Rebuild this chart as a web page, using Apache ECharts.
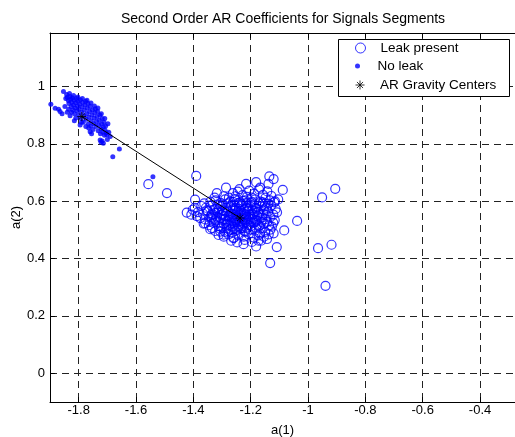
<!DOCTYPE html>
<html>
<head>
<meta charset="utf-8">
<script src="https://cdn.jsdelivr.net/npm/echarts@6/dist/echarts.min.js"></script>
<style>html,body{margin:0;padding:0;background:#fff}#c{width:515px;height:437px}</style>
</head>
<body>
<div id="c"></div>
<script>
const titleText = 'Second Order AR Coefficients for Signals Segments';
const xName = 'a(1)';
const yName = 'a(2)';
const xTicks = [-1.8, -1.6, -1.4, -1.2, -1, -0.8, -0.6, -0.4];
const yTicks = [0, 0.2, 0.4, 0.6, 0.8, 1];
const legendNames = ['Leak present', 'No leak', 'AR Gravity Centers'];

const leakPresent = [
  [-1.135,0.686],[-1.120,0.677],[-1.181,0.666],[-1.216,0.660],[-1.138,0.660],[-1.286,0.647],[-1.239,0.642],[-1.088,0.639],[-1.390,0.688],[-1.167,0.647],[-1.318,0.628],
  [-1.557,0.659],[-1.492,0.628],[-0.951,0.613],[-0.905,0.643],[-1.038,0.531],[-1.083,0.498],[-1.109,0.440],[-1.132,0.384],[-0.965,0.436],[-0.918,0.448],[-0.939,0.305],[-0.277,0.106],
  [-1.181,0.442],[-1.423,0.560],[-1.394,0.605],[-1.402,0.570],[-1.115,0.599],[-1.120,0.488],[-1.173,0.462],[-1.225,0.450],[-1.260,0.471],[-1.306,0.494],[-1.359,0.523],[-1.126,0.511],[-1.295,0.483],[-1.335,0.506],
  [-1.262,0.628],[-1.245,0.633],[-1.228,0.621],[-1.205,0.637],[-1.188,0.626],[-1.171,0.641],[-1.157,0.622],[-1.142,0.634],[-1.128,0.618],[-1.294,0.617],[-1.276,0.612],[-1.213,0.615],[-1.148,0.612],
  [-1.341,0.598],[-1.322,0.603],[-1.305,0.594],[-1.289,0.606],[-1.271,0.598],[-1.254,0.607],[-1.237,0.596],[-1.219,0.603],[-1.201,0.594],[-1.184,0.606],[-1.166,0.598],[-1.150,0.591],[-1.133,0.603],[-1.118,0.596],[-1.104,0.606],
  [-1.372,0.583],[-1.356,0.577],[-1.338,0.585],[-1.321,0.574],[-1.303,0.582],[-1.286,0.577],[-1.268,0.586],[-1.251,0.575],[-1.233,0.583],[-1.216,0.577],[-1.198,0.585],[-1.181,0.574],[-1.163,0.582],[-1.146,0.577],[-1.129,0.585],[-1.113,0.573],
  [-1.384,0.562],[-1.366,0.556],[-1.349,0.564],[-1.331,0.553],[-1.314,0.561],[-1.296,0.556],[-1.279,0.565],[-1.261,0.553],[-1.244,0.561],[-1.226,0.557],[-1.209,0.566],[-1.191,0.554],[-1.174,0.562],[-1.156,0.556],[-1.139,0.564],[-1.121,0.553],[-1.108,0.561],
  [-1.376,0.541],[-1.359,0.536],[-1.341,0.545],[-1.324,0.533],[-1.306,0.541],[-1.289,0.537],[-1.271,0.545],[-1.254,0.533],[-1.236,0.541],[-1.219,0.536],[-1.201,0.545],[-1.184,0.533],[-1.166,0.541],[-1.149,0.537],[-1.131,0.545],[-1.116,0.534],
  [-1.364,0.522],[-1.346,0.516],[-1.329,0.524],[-1.311,0.513],[-1.294,0.521],[-1.276,0.516],[-1.259,0.525],[-1.241,0.513],[-1.224,0.521],[-1.206,0.517],[-1.189,0.525],[-1.171,0.513],[-1.154,0.521],[-1.136,0.516],[-1.121,0.524],
  [-1.341,0.502],[-1.324,0.496],[-1.306,0.504],[-1.289,0.493],[-1.271,0.501],[-1.254,0.496],[-1.236,0.505],[-1.219,0.493],[-1.201,0.501],[-1.184,0.497],[-1.166,0.505],[-1.149,0.493],[-1.131,0.501],
  [-1.312,0.482],[-1.294,0.476],[-1.277,0.484],[-1.259,0.473],[-1.242,0.481],[-1.224,0.476],[-1.207,0.485],[-1.189,0.473],[-1.172,0.481],[-1.154,0.476],[-1.137,0.484],
  [-1.268,0.462],[-1.247,0.456],[-1.221,0.465],[-1.196,0.458],[-1.164,0.462],[-1.143,0.468],
  [-1.298,0.568],[-1.262,0.572],[-1.228,0.548],[-1.195,0.568],[-1.247,0.526],[-1.213,0.508],[-1.282,0.531],[-1.178,0.549],[-1.265,0.489],[-1.232,0.588],[-1.196,0.612],[-1.158,0.596],
  [-1.317,0.546],[-1.343,0.528],[-1.301,0.509],[-1.142,0.528],[-1.176,0.518],[-1.211,0.533],[-1.248,0.548],[-1.233,0.506],[-1.279,0.592],[-1.316,0.588],[-1.353,0.568],[-1.388,0.548],[-1.407,0.553],[-1.395,0.577],[-1.362,0.592],[-1.326,0.612],
  [-1.253,0.553],[-1.238,0.529],[-1.222,0.571],[-1.204,0.552],[-1.188,0.589],[-1.269,0.557],[-1.285,0.518],[-1.241,0.572],[-1.216,0.592],[-1.257,0.585],[-1.273,0.535],[-1.229,0.514],
  [-1.193,0.539],[-1.181,0.507],[-1.162,0.528],[-1.145,0.552],[-1.207,0.574],[-1.246,0.501],[-1.262,0.512],[-1.292,0.548],[-1.309,0.527],[-1.331,0.569],[-1.298,0.589],[-1.171,0.592],
  [-1.257,0.541],[-1.232,0.558],[-1.215,0.545],[-1.199,0.527],[-1.221,0.497],[-1.271,0.578],[-1.186,0.564],[-1.154,0.571],[-1.139,0.591],[-1.168,0.487],[-1.253,0.617],[-1.336,0.542],
  [-1.264,0.546],[-1.249,0.537],[-1.226,0.538],[-1.241,0.552],[-1.255,0.567],[-1.235,0.566],[-1.219,0.555],[-1.213,0.524],[-1.229,0.529],[-1.244,0.519],[-1.261,0.531],[-1.277,0.549],
  [-1.287,0.563],[-1.302,0.553],[-1.296,0.536],[-1.283,0.505],[-1.268,0.523],[-1.203,0.538],[-1.194,0.553],[-1.183,0.577],[-1.196,0.597],[-1.211,0.583],[-1.227,0.601],[-1.243,0.593],
  [-1.261,0.597],[-1.311,0.572],[-1.324,0.559],[-1.337,0.551],[-1.322,0.538],[-1.279,0.496],[-1.256,0.505],[-1.199,0.513],[-1.179,0.531],[-1.171,0.553],[-1.159,0.543],[-1.151,0.584]
];

const noLeak = [
  [-1.897,0.938],[-1.882,0.924],[-1.853,0.982],[-1.865,0.912],[-1.858,0.905],[-1.848,0.930],[-1.845,0.958],[-1.840,0.962],[-1.836,0.951],[-1.834,0.940],
  [-1.831,0.965],[-1.828,0.955],[-1.826,0.930],[-1.824,0.945],[-1.822,0.960],[-1.820,0.918],[-1.818,0.935],[-1.816,0.952],[-1.814,0.905],[-1.812,0.925],
  [-1.810,0.943],[-1.808,0.958],[-1.806,0.915],[-1.804,0.932],[-1.802,0.948],[-1.800,0.900],[-1.798,0.920],[-1.796,0.938],[-1.794,0.953],[-1.792,0.888],
  [-1.790,0.910],[-1.788,0.928],[-1.786,0.944],[-1.784,0.875],[-1.782,0.898],[-1.780,0.918],[-1.778,0.935],[-1.776,0.948],[-1.774,0.885],[-1.772,0.905],
  [-1.770,0.925],[-1.768,0.940],[-1.766,0.870],[-1.764,0.892],[-1.762,0.912],[-1.760,0.930],[-1.758,0.862],[-1.756,0.880],[-1.754,0.900],[-1.752,0.918],
  [-1.750,0.850],[-1.748,0.870],[-1.746,0.890],[-1.744,0.908],[-1.742,0.922],[-1.740,0.860],[-1.738,0.878],[-1.736,0.895],[-1.734,0.912],[-1.732,0.845],
  [-1.730,0.865],[-1.728,0.882],[-1.726,0.900],[-1.724,0.835],[-1.722,0.852],[-1.720,0.870],[-1.718,0.888],[-1.716,0.840],[-1.714,0.858],[-1.712,0.875],
  [-1.710,0.830],[-1.708,0.848],[-1.706,0.862],[-1.704,0.838],[-1.702,0.831],[-1.725,0.813],[-1.714,0.802],[-1.718,0.810],[-1.722,0.805],[-1.760,0.842],
  [-1.755,0.835],[-1.658,0.782],[-1.681,0.755],[-1.541,0.685],[-1.690,0.825],[-1.695,0.840],[-1.700,0.815],[-1.870,0.920],[-1.840,0.910],[-1.830,0.898],
  [-1.810,0.890],[-1.790,0.875],[-1.775,0.860],[-1.765,0.855],[-1.835,0.920],[-1.825,0.910],[-1.815,0.880],[-1.795,0.865],[-1.842,0.972],[-1.832,0.975],
  [-1.818,0.968],[-1.803,0.963],[-1.787,0.958],[-1.771,0.952],[-1.757,0.942],[-1.745,0.932],[-1.733,0.925],[-1.721,0.905],[-1.709,0.888],[-1.698,0.870]
];

const centers = [[-1.789, 0.895], [-1.237, 0.541]];

const font = 'Liberation Sans, Arial, sans-serif';
const starPath = 'path://M5,0L5,10M0,5L10,5M1.6,1.6L8.4,8.4M1.6,8.4L8.4,1.6';
const chart = echarts.init(document.getElementById('c'), null, {renderer: 'canvas'});

const gridLine = {show: true, lineStyle: {color: '#222', width: 1, type: [7, 5]}};
const legendText = {fontFamily: font, fontSize: 13.5, color: '#000'};

chart.setOption({
  animation: false,
  backgroundColor: '#fff',
  title: {text: titleText, left: 278, textAlign: 'center', top: 7,
    textStyle: {fontFamily: font, fontSize: 14, fontWeight: 'normal', color: '#000'}},
  grid: {left: 50, right: 0, top: 33, bottom: 35, containLabel: false, outerBoundsMode: 'none'},
  xAxis: [{
    type: 'value', min: -1.9, max: -0.278, position: 'bottom',
    name: xName, nameLocation: 'middle', nameGap: 22,
    nameTextStyle: {fontFamily: font, fontSize: 13, color: '#000'},
    axisLine: {show: true, onZero: false, lineStyle: {color: '#000', width: 1}},
    axisTick: {show: true, inside: true, length: 5, customValues: xTicks, lineStyle: {color: '#000'}},
    axisLabel: {customValues: xTicks, margin: 2, fontFamily: font, fontSize: 13, color: '#000',
      formatter: v => String(Math.round(v * 10) / 10)},
    splitLine: gridLine
  }, {
    type: 'value', min: -1.9, max: -0.278, position: 'top',
    axisLine: {show: true, onZero: false, lineStyle: {color: '#000', width: 1}},
    axisTick: {show: true, inside: true, length: 5, customValues: xTicks, lineStyle: {color: '#000'}},
    axisLabel: {show: false}, splitLine: {show: false}
  }],
  yAxis: [{
    type: 'value', min: -0.1, max: 1.186,
    name: yName, nameLocation: 'middle', nameGap: 27, nameRotate: 90, nameMoveOverlap: false,
    nameTextStyle: {fontFamily: font, fontSize: 13, color: '#000'},
    axisLine: {show: true, onZero: false, lineStyle: {color: '#000', width: 1}},
    axisTick: {show: true, inside: true, length: 5, customValues: yTicks, lineStyle: {color: '#000'}},
    axisLabel: {customValues: yTicks, margin: 5, fontFamily: font, fontSize: 13, color: '#000',
      formatter: v => String(Math.round(v * 10) / 10)},
    splitLine: gridLine
  }],
  graphic: [{
    type: 'rect', left: 338, top: 39, z: 100,
    shape: {width: 171, height: 57},
    style: {fill: '#fff', stroke: '#000', lineWidth: 1}
  }],
  legend: [
    {data: [legendNames[0]], left: 355, top: 41, padding: 0, itemWidth: 30, itemHeight: 10, z: 110,
      itemStyle: {borderWidth: 1}, textStyle: legendText},
    {data: [legendNames[1]], left: 355, top: 59, padding: 0, itemWidth: 30, itemHeight: 5, z: 110,
      textStyle: legendText},
    {data: [legendNames[2]], left: 355, top: 78, padding: 0, itemWidth: 30, itemHeight: 9, z: 110,
      itemStyle: {borderWidth: 1}, textStyle: legendText}
  ],
  series: [
    {name: legendNames[0], type: 'scatter', data: leakPresent, symbol: 'circle', symbolSize: 9,
      itemStyle: {color: 'transparent', borderColor: '#0000ff', borderWidth: 1.2}},
    {name: legendNames[1], type: 'scatter', data: noLeak, symbol: 'circle', symbolSize: 5,
      itemStyle: {color: '#0000ff', borderWidth: 0}},
    {name: 'centerLine', type: 'line', data: centers, showSymbol: false, symbol: 'none',
      lineStyle: {color: '#000', width: 1}},
    {name: legendNames[2], type: 'scatter', data: centers, symbol: starPath, symbolSize: 9,
      itemStyle: {color: 'transparent', borderColor: '#000', borderWidth: 1}}
  ]
});
</script>
</body>
</html>
